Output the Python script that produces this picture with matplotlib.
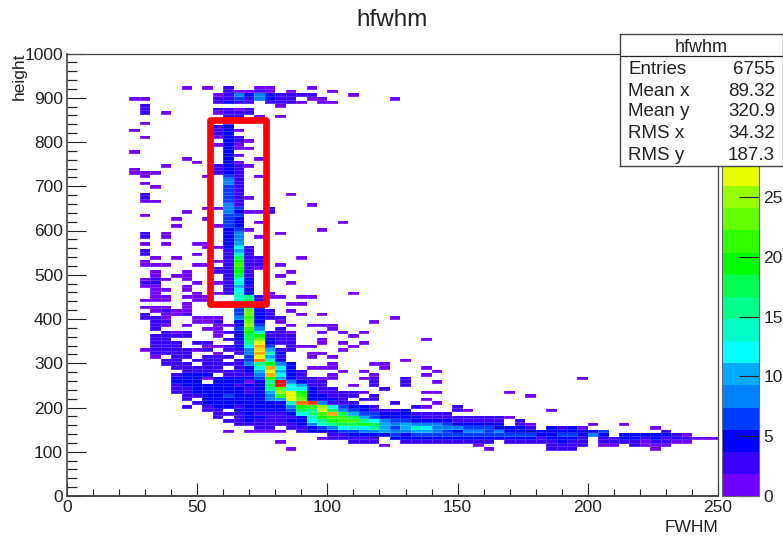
import numpy as np
import matplotlib
matplotlib.use("Agg")
import matplotlib.pyplot as plt
from matplotlib.colors import ListedColormap, Normalize
from matplotlib.patches import Rectangle

plt.rcParams["font.family"] = ["Liberation Sans", "DejaVu Sans"]

# histogram binning: 4 FWHM units x 8 height units
x_edges = np.arange(0, 256, 4)
y_edges = np.arange(0, 1008, 8)
z_max = 37

palette = ["#7000ff", "#3800ff", "#0000ff", "#003cff", "#0082ff",
           "#00aaff", "#00ffff", "#00ffc8", "#00ff8c", "#00ff50",
           "#00ff00", "#32ff00", "#64ff00", "#96ff00", "#e6ff00",
           "#ffdc00", "#ffaa00", "#ff6e00", "#ff3c00", "#ff0000"]
cbar_ticks = [0, 5, 10, 15, 20, 25]

stat_names = ["Entries", "Mean x", "Mean y", "RMS x", "RMS y"]
stat_values = ["6755", "89.32", "320.9", "34.32", "187.3"]

# cells, (height bin, {fwhm bin: count})
top_rows = [
    (115, {11: 1, 13: 1, 15: 2, 18: 1, 19: 1, 23: 1}),
    (114, {15: 2, 16: 1, 17: 1, 18: 2, 19: 1, 21: 1, 25: 1}),
    (113, {14: 1, 15: 3, 16: 8, 17: 4, 18: 9, 19: 4, 20: 3, 21: 3, 22: 2, 23: 2, 27: 1}),
    (112, {6: 1, 7: 1, 14: 2, 15: 3, 16: 7, 17: 3, 18: 8, 19: 4, 20: 3, 21: 3, 23: 1, 24: 1, 31: 1}),
    (111, {14: 2, 15: 4, 16: 2, 17: 2, 19: 2, 20: 2, 21: 2, 22: 1, 24: 1, 25: 1}),
    (110, {7: 2, 20: 1}),
    (109, {7: 2, 14: 2, 15: 3, 16: 1, 17: 2}),
    (108, {7: 2, 9: 1, 14: 1, 15: 2, 16: 2, 17: 2}),
    (107, {15: 2, 16: 2, 18: 1, 20: 1}),
    (106, {15: 2}),
]

column_rows = [
    (105, {7: 1, 15: 3}),
    (104, {14: 2, 15: 4}),
    (103, {6: 1, 14: 2, 15: 4, 16: 1}),
    (102, {14: 2, 15: 4}),
    (101, {7: 1, 14: 1, 15: 5, 16: 2}),
    (100, {15: 5, 16: 2, 17: 1}),
    (99, {14: 1, 15: 4, 16: 1}),
    (98, {15: 4, 16: 1, 17: 1}),
    (97, {6: 1, 15: 4}),
    (96, {15: 5, 16: 1}),
    (95, {11: 1, 15: 4, 18: 1}),
    (94, {12: 1, 15: 5, 16: 1}),
    (93, {9: 1, 14: 2, 15: 5, 16: 2, 17: 1}),
    (92, {6: 1, 14: 2, 15: 5, 16: 2}),
    (91, {6: 1, 7: 1, 8: 1, 14: 2, 15: 5, 16: 2}),
    (90, {7: 1, 13: 1, 15: 6, 16: 2, 18: 1}),
    (89, {15: 8, 16: 3}),
    (88, {7: 1, 15: 8, 16: 2}),
    (87, {8: 1, 15: 6, 16: 3}),
    (86, {15: 7, 16: 2}),
    (85, {7: 2, 15: 6, 16: 3, 21: 1}),
    (84, {7: 2, 15: 6, 16: 2, 17: 1}),
    (83, {7: 1, 8: 1, 15: 7, 16: 3}),
    (82, {15: 8, 16: 3, 23: 1}),
    (81, {13: 1, 14: 1, 15: 8, 16: 6, 19: 2}),
    (80, {11: 1, 15: 9, 16: 5, 17: 1, 18: 1, 19: 2}),
    (79, {7: 1, 15: 7, 16: 6}),
    (78, {10: 1, 13: 1, 15: 6, 16: 5}),
    (77, {15: 6, 16: 5, 18: 1, 26: 1}),
    (76, {10: 1, 14: 1, 15: 6, 16: 4}),
    (75, {15: 5, 16: 7, 17: 1, 24: 1}),
    (74, {7: 2, 9: 1, 15: 4, 16: 9, 20: 1}),
    (73, {7: 2, 9: 1, 15: 4, 16: 8, 18: 1}),
    (72, {15: 4, 16: 9}),
    (71, {7: 1, 9: 1, 12: 1, 13: 1, 15: 4, 16: 11}),
    (70, {13: 1, 14: 1, 15: 5, 16: 12, 17: 2}),
    (69, {7: 2, 15: 3, 16: 10, 17: 2}),
    (68, {7: 2, 12: 1, 15: 3, 16: 14, 17: 2}),
    (67, {8: 1, 10: 1, 15: 3, 16: 17, 17: 2, 18: 2, 22: 1}),
    (66, {7: 1, 14: 1, 15: 3, 16: 20, 17: 2, 18: 3}),
    (65, {7: 1, 8: 1, 9: 1, 12: 1, 13: 1, 15: 3, 16: 21, 17: 3, 18: 2, 20: 1}),
    (64, {14: 2, 15: 3, 16: 20, 17: 2, 18: 1}),
    (63, {8: 1, 11: 1, 14: 2, 15: 3, 16: 19, 17: 2, 21: 1}),
]

knee_rows = [
    (62, {8: 1, 10: 1, 11: 1, 15: 3, 16: 18, 17: 3, 20: 1}),
    (61, {7: 1, 8: 2, 9: 1, 11: 1, 15: 3, 16: 12, 17: 4}),
    (60, {7: 2, 8: 2, 12: 1, 14: 1, 15: 2, 16: 13, 17: 5, 21: 1}),
    (59, {7: 1, 8: 1, 11: 1, 15: 3, 16: 11, 17: 3}),
    (58, {8: 1, 9: 1, 11: 1, 15: 2, 16: 12, 17: 4}),
    (57, {8: 1, 12: 1, 14: 1, 15: 2, 16: 13, 17: 5, 19: 1, 27: 1}),
    (56, {8: 1, 9: 1, 11: 1, 12: 1, 13: 1, 16: 13, 17: 15, 18: 3, 19: 1, 20: 1, 22: 1, 23: 1}),
    (55, {7: 1, 8: 1, 9: 1, 12: 1, 13: 1, 16: 13, 17: 17, 18: 3}),
    (54, {11: 1, 16: 8, 17: 15, 18: 3, 21: 1, 22: 1}),
    (53, {7: 1, 8: 1, 9: 1, 11: 1, 16: 7, 17: 18, 18: 4}),
    (52, {8: 1, 9: 2, 10: 1, 11: 1, 16: 7, 17: 23, 18: 5, 19: 2, 21: 1}),
    (51, {7: 2, 9: 1, 10: 1, 11: 2, 16: 7, 17: 23, 18: 5, 19: 3, 22: 1, 24: 1}),
    (50, {7: 2, 8: 2, 9: 1, 12: 1, 13: 1, 14: 1, 16: 8, 17: 22, 18: 5, 19: 2, 20: 2, 31: 1}),
    (49, {8: 2, 9: 2, 12: 1, 13: 1, 14: 2, 16: 5, 17: 23, 18: 5, 20: 1, 29: 1}),
    (48, {8: 2, 9: 1, 11: 1, 14: 1, 15: 1, 16: 5, 17: 25, 18: 6, 21: 1, 23: 1, 24: 1, 25: 1}),
    (47, {8: 2, 13: 1, 14: 1, 16: 6, 17: 22, 18: 8, 20: 2, 25: 1}),
    (46, {9: 2, 10: 1, 11: 2, 14: 1, 15: 2, 16: 5, 17: 20, 18: 14, 19: 3, 20: 2, 21: 1, 24: 1, 26: 1, 28: 1}),
    (45, {8: 2, 9: 2, 10: 2, 11: 2, 14: 1, 16: 5, 17: 18, 18: 20, 19: 3, 20: 2, 21: 2, 27: 1}),
    (44, {8: 3, 9: 3, 15: 2, 16: 4, 17: 18, 18: 23, 19: 4, 20: 3, 21: 2, 24: 1, 34: 1}),
    (43, {8: 2, 9: 2, 10: 2, 12: 2, 13: 2, 16: 3, 17: 15, 18: 27, 19: 4, 20: 3, 21: 2, 24: 1, 26: 1, 28: 1}),
    (42, {8: 2, 9: 2, 10: 3, 13: 1, 14: 1, 15: 2, 16: 4, 17: 12, 18: 31, 19: 6, 21: 2, 22: 1, 23: 1, 27: 1}),
    (41, {7: 1, 8: 2, 9: 2, 10: 3, 11: 2, 12: 1, 13: 2, 15: 2, 16: 3, 17: 9, 18: 28, 19: 10, 20: 3, 21: 2, 26: 1}),
    (40, {8: 2, 9: 2, 10: 3, 11: 3, 14: 1, 16: 3, 17: 9, 18: 31, 19: 13, 20: 4, 23: 1, 24: 1}),
    (39, {8: 1, 10: 3, 11: 2, 13: 2, 14: 2, 15: 3, 17: 6, 18: 27, 19: 11, 20: 3, 23: 1, 25: 1}),
    (38, {9: 2, 10: 3, 12: 2, 13: 2, 14: 3, 16: 3, 17: 7, 18: 33, 19: 13, 20: 4, 32: 1}),
    (37, {9: 2, 10: 3, 11: 3, 13: 2, 14: 2, 15: 3, 16: 3, 17: 8, 18: 16, 19: 20, 20: 9, 21: 4, 25: 1, 29: 1, 30: 1}),
    (36, {10: 2, 11: 2, 12: 2, 13: 2, 14: 3, 16: 3, 17: 5, 18: 12, 19: 30, 20: 12, 21: 4, 23: 1, 24: 1, 25: 1, 30: 1, 34: 1}),
    (35, {11: 3, 12: 3, 13: 2, 14: 3, 15: 3, 16: 3, 17: 4, 18: 10, 19: 27, 20: 11, 21: 4, 22: 2, 26: 1, 28: 1, 35: 1}),
    (34, {10: 3, 11: 4, 12: 4, 13: 4, 15: 2, 16: 3, 17: 2, 18: 8, 19: 31, 20: 12, 21: 4, 22: 3, 25: 1, 29: 1, 34: 1}),
    (33, {10: 4, 11: 5, 12: 4, 13: 1, 14: 4, 15: 5, 16: 5, 17: 4, 18: 6, 19: 20, 20: 11, 21: 5, 22: 3, 23: 3, 24: 1, 25: 1, 28: 1, 29: 2, 32: 2, 49: 1}),
    (32, {10: 4, 11: 5, 12: 4, 14: 5, 15: 5, 16: 5, 17: 1, 18: 5, 19: 16, 20: 37, 21: 9, 22: 4, 23: 3, 24: 2, 29: 2, 32: 2, 35: 1}),
    (31, {10: 3, 11: 4, 12: 4, 13: 4, 14: 4, 15: 4, 16: 3, 17: 4, 18: 5, 19: 17, 20: 37, 21: 12, 22: 11, 23: 2, 24: 2, 27: 1, 29: 2, 32: 2}),
    (30, {10: 3, 11: 3, 12: 5, 13: 4, 14: 4, 15: 5, 16: 4, 17: 3, 18: 5, 19: 15, 20: 24, 21: 12, 22: 12, 23: 4, 24: 2, 25: 2, 30: 2}),
    (29, {10: 2, 11: 3, 12: 4, 13: 5, 14: 5, 15: 5, 16: 4, 17: 3, 18: 5, 19: 11, 20: 25, 21: 27, 22: 20, 23: 5, 24: 3, 25: 3, 26: 3, 27: 2, 28: 1, 34: 1, 35: 1, 42: 1}),
    (28, {11: 3, 12: 2, 13: 4, 14: 5, 15: 6, 16: 5, 17: 4, 18: 5, 19: 9, 20: 22, 21: 27, 22: 22, 23: 5, 24: 4, 25: 3, 26: 3, 27: 2, 29: 2, 44: 1}),
    (27, {11: 3, 13: 4, 14: 5, 15: 5, 16: 4, 17: 4, 18: 4, 19: 8, 20: 10, 21: 26, 22: 24, 23: 4, 24: 5, 25: 4, 26: 3, 28: 2, 29: 3, 34: 1}),
    (26, {12: 3, 13: 5, 14: 5, 15: 4, 16: 5, 17: 4, 18: 4, 19: 5, 20: 5, 21: 14, 22: 32, 23: 34, 24: 9, 25: 3, 26: 3, 27: 2, 31: 2, 35: 1}),
    (25, {11: 2, 13: 3, 14: 4, 15: 5, 16: 3, 17: 4, 18: 4, 19: 5, 20: 5, 21: 9, 22: 20, 23: 22, 24: 25, 25: 12, 26: 6, 27: 5, 28: 4, 29: 3, 33: 2, 34: 1, 37: 2}),
]

core_rows = [
    (24, {13: 3, 14: 3, 16: 4, 17: 4, 18: 4, 19: 4, 20: 4, 21: 7, 22: 17, 23: 16, 24: 26, 25: 18, 26: 8, 27: 6, 28: 4, 29: 3, 30: 3, 31: 2, 32: 4, 37: 2, 38: 1, 46: 1}),
    (23, {14: 2, 15: 3, 16: 3, 17: 4, 18: 3, 19: 3, 20: 3, 21: 5, 22: 12, 23: 16, 24: 22, 25: 30, 26: 18, 27: 10, 28: 6, 29: 6, 30: 5, 31: 4, 32: 4, 33: 3, 34: 3, 35: 3, 36: 3}),
    (22, {14: 2, 16: 3, 17: 4, 18: 4, 19: 3, 20: 3, 21: 3, 22: 5, 23: 13, 24: 20, 25: 22, 26: 22, 27: 18, 28: 10, 29: 7, 30: 5, 31: 5, 32: 5, 33: 4, 34: 3, 35: 3, 36: 3, 37: 2}),
    (21, {15: 2, 16: 3, 17: 4, 18: 3, 19: 3, 20: 3, 21: 4, 22: 5, 23: 12, 24: 15, 25: 20, 26: 22, 27: 22, 28: 16, 29: 12, 30: 9, 31: 6, 32: 7, 33: 5, 34: 4, 35: 4, 36: 4}),
    (20, {16: 2, 17: 2, 18: 2, 19: 2, 20: 2, 21: 3, 22: 5, 23: 8, 24: 14, 25: 16, 26: 18, 27: 17, 28: 20, 29: 17, 30: 10, 31: 8, 32: 11, 33: 8, 34: 8, 35: 9, 36: 7, 37: 5}),
    (19, {18: 2, 19: 2, 21: 2, 22: 3, 23: 5, 24: 7, 25: 9, 26: 12, 27: 14, 28: 12, 29: 15, 30: 11, 31: 7, 32: 10, 33: 13, 34: 12, 35: 9, 36: 8, 37: 8}),
    (18, {15: 1, 17: 1, 18: 1, 19: 1, 20: 1, 22: 2, 23: 4, 24: 4, 25: 5, 26: 6, 27: 7, 28: 8, 29: 9, 30: 10, 31: 9, 32: 9, 33: 11, 34: 11, 35: 8, 36: 7, 37: 5}),
    (17, {25: 2, 26: 3, 27: 4, 28: 5, 29: 5, 30: 4, 31: 6, 32: 5, 33: 6, 34: 6, 35: 6, 36: 6, 37: 7}),
    (16, {24: 1, 25: 2, 26: 3, 27: 3, 28: 3, 29: 3, 31: 4, 32: 4, 33: 4, 34: 5, 35: 5, 36: 4, 37: 4}),
    (15, {20: 1, 27: 2, 28: 2, 29: 3, 32: 2, 33: 3, 34: 3, 35: 2, 36: 2, 37: 2}),
    (14, {30: 1, 39: 1}),
    (13, {21: 1, 40: 1}),
]

tail_rows = [
    (22, {38: 2, 39: 3, 40: 3, 41: 3, 42: 1}),
    (21, {37: 3, 38: 3, 39: 3, 40: 3, 41: 3, 43: 2}),
    (20, {38: 4, 39: 4, 40: 4, 41: 4, 43: 3, 44: 1, 50: 1, 53: 1}),
    (19, {38: 6, 39: 6, 40: 6, 41: 5, 42: 4, 43: 4, 44: 3, 46: 4, 47: 3, 48: 4, 49: 1, 56: 1}),
    (18, {38: 8, 39: 8, 40: 7, 41: 9, 42: 5, 43: 5, 44: 5, 45: 5, 46: 5, 47: 5, 48: 5, 49: 4, 50: 5, 51: 6, 57: 2}),
    (17, {38: 7, 39: 6, 40: 6, 41: 6, 42: 6, 43: 6, 44: 6, 45: 5, 46: 4, 47: 6, 48: 7, 49: 5, 50: 9, 51: 5, 53: 5, 54: 5, 55: 5, 56: 5, 57: 5, 58: 3, 59: 1}),
    (16, {38: 5, 39: 4, 40: 4, 41: 4, 42: 5, 43: 5, 44: 4, 45: 3, 46: 4, 47: 4, 48: 4, 49: 3, 51: 3, 52: 2, 53: 4, 54: 4, 55: 3, 56: 4, 57: 3, 58: 3, 59: 2, 60: 1, 61: 1, 62: 1}),
    (15, {38: 2, 39: 2, 40: 2, 42: 3, 43: 3, 44: 3, 45: 2, 46: 3, 47: 4, 48: 3, 49: 3, 51: 2, 52: 2, 53: 2, 54: 2, 55: 1, 56: 2, 57: 2, 58: 1, 59: 1}),
    (14, {46: 2, 47: 2, 48: 2, 49: 2, 51: 1, 52: 1, 54: 2, 55: 1, 56: 1, 57: 1}),
    (13, {46: 2, 47: 2, 48: 2, 56: 1}),
]

grid = np.zeros((len(y_edges) - 1, len(x_edges) - 1))
for rows in [top_rows, column_rows, knee_rows, core_rows, tail_rows]:
    for j, cells in rows:
        for i, n in cells.items():
            grid[j, i] = n

W, H = 783, 537
fig = plt.figure(figsize=(W / 100, H / 100), dpi=100)

def box(x0, y0, x1, y1):
    # pixel box, top-left origin, to figure fractions
    return [x0 / W, 1 - y1 / H, (x1 - x0) / W, (y1 - y0) / H]

ax = fig.add_axes(box(67, 53.5, 718, 496))
cmap = ListedColormap(palette)
cmap.set_bad("white")
norm = Normalize(0, z_max)
# faint pale cell borders like the reference
mesh = ax.pcolormesh(x_edges, y_edges, np.ma.masked_equal(grid, 0), cmap=cmap, norm=norm,
                     edgecolors=(1, 1, 1, 0.18), linewidth=0.4, antialiased=False)
ax.set_xlim(0, 250)
ax.set_ylim(0, 1000)
ax.set_xticks(np.arange(0, 251, 50))
ax.set_xticks(np.arange(0, 251, 10), minor=True)
ax.set_yticks(np.arange(0, 1001, 100))
ax.set_yticks(np.arange(0, 1001, 20), minor=True)
ax.tick_params(axis="x", which="major", direction="in", length=9.4, width=0.8, labelsize=12.5, pad=3, color="#222222", labelcolor="#222222")
ax.tick_params(axis="x", which="minor", direction="in", length=4.7, width=0.8, color="#222222")
ax.tick_params(axis="y", which="major", direction="in", length=13.5, width=0.8, labelsize=12.5, pad=3, color="#222222", labelcolor="#222222")
ax.tick_params(axis="y", which="minor", direction="in", length=7, width=0.9, color="#222222")
for s in ax.spines.values():
    s.set_color("#444444")
    s.set_linewidth(0.9)
ax.spines["left"].set_linewidth(1.2)
ax.spines["bottom"].set_linewidth(1.4)

ax.add_patch(Rectangle((55.1, 432.8), 21.5, 415.8, fill=False, edgecolor="#ff0000",
                       linewidth=4.8, joinstyle="round", zorder=5))

fig.text(392 / W, 1 - 20.5 / H, "hfwhm", ha="center", va="center", fontsize=17.5, color="#222222")
fig.text(718 / W, 1 - 528 / H, "FWHM", ha="right", va="center", fontsize=12.5, color="#222222")
fig.text(19 / W, 1 - 100 / H, "height", ha="center", va="bottom", rotation=90, fontsize=12.5, color="#222222")

cax = fig.add_axes(box(722, 53.5, 759, 496))
cbar = fig.colorbar(mesh, cax=cax, ticks=cbar_ticks)
cbar.ax.tick_params(direction="in", length=14.4, width=0.8, labelsize=12.5, pad=3, color="#222222", labelcolor="#222222")
cbar.outline.set_edgecolor("#666666")
cbar.outline.set_linewidth(0.8)
cbar.minorticks_off()

# stats box on its own axes so it hides the top of the palette
sax = fig.add_axes(box(620, 34, 783, 166), zorder=10)
sax.set_xlim(620, 783)
sax.set_ylim(166, 34)
sax.set_xticks([])
sax.set_yticks([])
sax.set_facecolor("white")
for s in sax.spines.values():
    s.set_color("#444444")
    s.set_linewidth(1.0)
sax.plot([620, 783], [56, 56], color="#222222", linewidth=0.9)
sax.text(701, 47, "hfwhm", ha="center", va="center", fontsize=13, color="#222222")
for y, name, val in zip([69, 91, 112, 134, 156], stat_names, stat_values):
    sax.text(628, y, name, ha="left", va="center", fontsize=13.5, color="#222222")
    sax.text(775, y, val, ha="right", va="center", fontsize=13.5, color="#222222")

fig.savefig("out.png", dpi=100)
